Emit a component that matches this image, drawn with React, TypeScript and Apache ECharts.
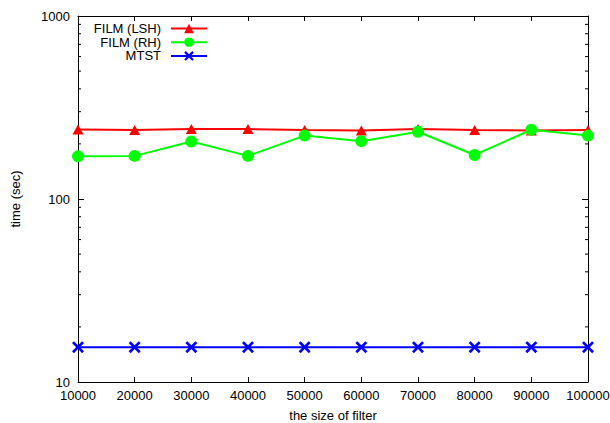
import React, { useEffect, useRef } from "react";
import * as echarts from "echarts";

const filterSizes = [10000, 20000, 30000, 40000, 50000, 60000, 70000, 80000, 90000, 100000];
const filmLSH = [240, 238, 241, 241, 238, 237, 241, 238, 237, 238];
const filmRH = [171, 172, 206, 172, 222, 207, 233, 174, 239, 222];
const mtst = [15.5, 15.5, 15.5, 15.5, 15.5, 15.5, 15.5, 15.5, 15.5, 15.5];
const minorYTicks = [20, 30, 40, 50, 60, 70, 80, 90, 200, 300, 400, 500, 600, 700, 800, 900];
const seriesNames = ["FILM (LSH)", "FILM (RH)", "MTST"];

const FONT = "'Liberation Sans', Arial, Helvetica, sans-serif";
const FS = 13;
const X_SYMBOL =
  "path://M0,1.6L1.6,0L5,3.4L8.4,0L10,1.6L6.6,5L10,8.4L8.4,10L5,6.6L1.6,10L0,8.4L3.4,5Z";

export default function App() {
  const ref = useRef<HTMLDivElement>(null);
  useEffect(() => {
    if (!ref.current) return;
    const chart = echarts.init(ref.current, undefined, { renderer: "svg" });
    const xMin = filterSizes[0];
    const xMax = filterSizes[filterSizes.length - 1];
    const axisCommon = {
      axisLine: { show: true, lineStyle: { color: "#000", width: 1 } },
      splitLine: { show: false },
    };
    chart.setOption({
      animation: false,
      backgroundColor: "#fff",
      textStyle: { fontFamily: FONT },
      grid: {
        left: 78,
        top: 16,
        right: 22,
        bottom: 41,
        containLabel: false,
        outerBoundsMode: "none",
      },
      legend: {
        data: seriesNames,
        orient: "vertical",
        align: "right",
        right: 402,
        top: 22,
        padding: 0,
        itemGap: 0.7,
        itemWidth: 36,
        itemHeight: 12,
        textStyle: { fontFamily: FONT, fontSize: FS, lineHeight: 12, color: "#000", padding: [0, 5, 0, 0] },
        selectedMode: false,
      },
      xAxis: [
        {
          type: "value",
          min: xMin,
          max: xMax,
          interval: 10000,
          position: "bottom",
          ...axisCommon,
          axisTick: { show: true, inside: true, length: 5, lineStyle: { color: "#000" } },
          axisLabel: {
            show: true,
            color: "#000",
            fontSize: FS,
            lineHeight: 13,
            fontFamily: FONT,
            margin: 7,
            hideOverlap: false,
            formatter: (v: number) => String(v),
          },
          name: "the size of filter",
          nameLocation: "middle",
          nameGap: 27,
          nameTextStyle: { color: "#000", fontSize: FS, fontFamily: FONT },
        },
        {
          type: "value",
          min: xMin,
          max: xMax,
          interval: 10000,
          position: "top",
          ...axisCommon,
          axisTick: { show: true, inside: true, length: 5, lineStyle: { color: "#000" } },
          axisLabel: { show: false },
        },
      ],
      yAxis: [
        {
          type: "log",
          logBase: 10,
          min: 10,
          max: 1000,
          position: "left",
          ...axisCommon,
          axisTick: { show: true, inside: true, length: 6, lineStyle: { color: "#000" } },
          axisLabel: {
            show: true,
            color: "#000",
            fontSize: FS,
            lineHeight: 11,
            fontFamily: FONT,
            margin: 8,
            padding: [0, 0, 2, 0],
            formatter: (v: number) => String(v),
          },
          name: "time (sec)",
          nameLocation: "middle",
          nameRotate: 90,
          nameGap: 56,
          nameTextStyle: { color: "#000", fontSize: FS, fontFamily: FONT },
        },
        {
          type: "log",
          logBase: 10,
          min: 10,
          max: 1000,
          position: "right",
          ...axisCommon,
          axisTick: { show: true, inside: true, length: 6, lineStyle: { color: "#000" } },
          axisLabel: { show: false },
        },
      ],
      series: [
        {
          type: "custom",
          name: "minorTicks",
          coordinateSystem: "cartesian2d",
          xAxisIndex: 0,
          yAxisIndex: 0,
          silent: true,
          data: minorYTicks.map((v) => [xMin, v]),
          renderItem: (params: any, api: any) => {
            const v = api.value(1);
            const left = api.coord([xMin, v]);
            const right = api.coord([xMax, v]);
            const style = { stroke: "#000", lineWidth: 1 };
            return {
              type: "group",
              children: [
                { type: "line", shape: { x1: left[0], y1: left[1], x2: left[0] + 3, y2: left[1] }, style },
                { type: "line", shape: { x1: right[0] - 3, y1: right[1], x2: right[0], y2: right[1] }, style },
              ],
            };
          },
        },
        {
          type: "line",
          name: seriesNames[0],
          data: filterSizes.map((x, i) => [x, filmLSH[i]]),
          symbol: "triangle",
          symbolSize: [11, 10],
          clip: false,
          lineStyle: { color: "#ff0000", width: 2 },
          itemStyle: { color: "#ff0000" },
        },
        {
          type: "line",
          name: seriesNames[1],
          data: filterSizes.map((x, i) => [x, filmRH[i]]),
          symbol: "circle",
          symbolSize: 12,
          clip: false,
          lineStyle: { color: "#00ff00", width: 2 },
          itemStyle: { color: "#00ff00" },
        },
        {
          type: "line",
          name: seriesNames[2],
          data: filterSizes.map((x, i) => [x, mtst[i]]),
          symbol: X_SYMBOL,
          symbolSize: 12,
          clip: false,
          lineStyle: { color: "#0000ff", width: 2 },
          itemStyle: { color: "#0000ff" },
        },
      ],
    });
    return () => chart.dispose();
  }, []);
  return (
    <div
      ref={ref}
      style={{ position: "fixed", left: 0, top: 0, width: 610, height: 423 }}
    />
  );
}
